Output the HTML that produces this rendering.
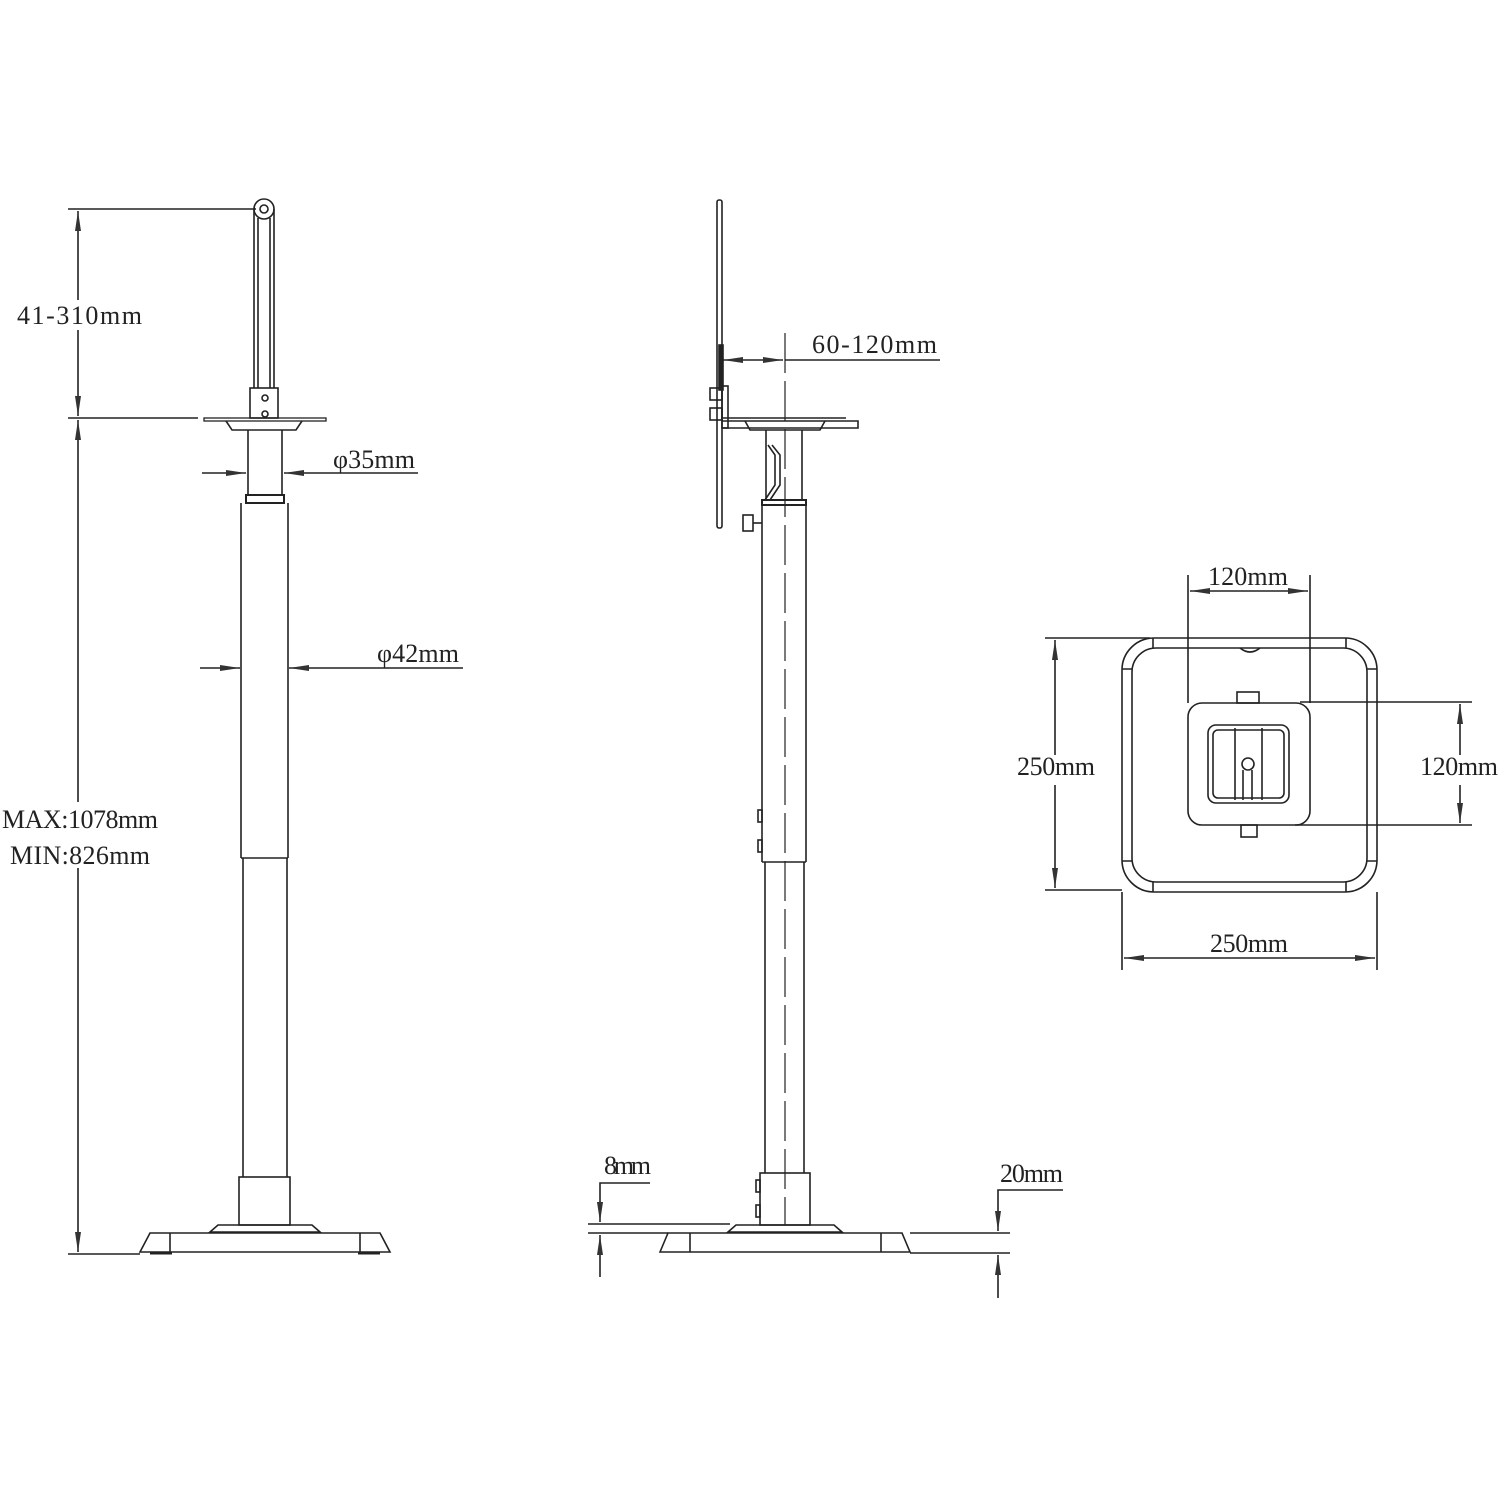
<!DOCTYPE html>
<html><head><style>
html,body{margin:0;padding:0;background:#fff;}
svg{display:block}
text{font-family:"Liberation Serif",serif;font-size:26px;fill:#222;}
</style></head><body>
<svg width="1500" height="1500" viewBox="0 0 1500 1500" xmlns="http://www.w3.org/2000/svg">
<defs>
<marker id="a" viewBox="0 0 20 8" refX="20" refY="4" markerWidth="20" markerHeight="8" markerUnits="userSpaceOnUse" orient="auto-start-reverse"><path d="M0,1 L20,4 L0,7 Z" fill="#333"/></marker>
</defs>
<g stroke="#222" stroke-width="1.6" fill="none">
<!-- LEFT STAND -->
<circle cx="264" cy="209" r="10"/><circle cx="264" cy="209" r="4"/>
<path d="M254,209 V388 M274,209 V388 M258,218 V388 M270,218 V388"/>
<rect x="250" y="388" width="28" height="30"/>
<circle cx="265" cy="398" r="3"/><circle cx="265" cy="414" r="3"/>
<rect x="204" y="418" width="122" height="3" stroke-width="1.3"/>
<path d="M226,421 L232,430 H296 L302,421"/>
<path d="M248,430 V495 M282,430 V495"/>
<rect x="246" y="495" width="38" height="8" stroke-width="2"/>
<path d="M241,503 V858 M288,503 V858 M241,858 H288"/>
<path d="M243,858 V1177 M287,858 V1177"/>
<rect x="239" y="1177" width="51" height="48"/>
<path d="M210,1232 L218,1225 H312 L320,1232 Z"/>
<path d="M140,1252 L150,1233 H380 L390,1252 Z"/>
<path d="M170,1233 V1252 M360,1233 V1252"/>
<path d="M150,1253 H172 M358,1253 H380" stroke-width="3"/>
<!-- left dims -->
<path d="M68,209 H256 M68,418 H198 M68,1254 H140"/>
<path d="M78,211 V416" marker-start="url(#a)" marker-end="url(#a)"/>
<path d="M78,420 V1252" marker-start="url(#a)" marker-end="url(#a)"/>
<path d="M202,473 H246" marker-end="url(#a)"/>
<path d="M418,473 H284" marker-end="url(#a)"/>
<path d="M200,668 H240" marker-end="url(#a)"/>
<path d="M463,668 H289" marker-end="url(#a)"/>
<!-- MIDDLE STAND -->
<rect x="717" y="200" width="5" height="328" rx="2"/>
<rect x="719" y="345" width="4" height="45" fill="#222"/>
<rect x="710" y="388" width="12" height="12"/><rect x="710" y="408" width="12" height="12"/>
<rect x="722" y="386" width="6" height="42"/>
<path d="M722,418 H846 M722,428 H858 V421 H722"/>
<path d="M745,421 L750,430 H820 L825,421"/>
<path d="M766,430 V500 M802,430 V500"/>
<path d="M768,445 L775,455 V485 L765,500 M772,445 L780,455 V485 L770,500"/>
<rect x="762" y="500" width="44" height="5" stroke-width="2"/>
<path d="M762,505 V862 M806,505 V862 M762,862 H806"/>
<rect x="743" y="515" width="10" height="16"/><path d="M753,523 H762"/>
<path d="M765,862 V1173 M804,862 V1173"/>
<rect x="758" y="810" width="4" height="12"/><rect x="758" y="840" width="4" height="12"/>
<rect x="760" y="1173" width="50" height="52"/>
<rect x="756" y="1180" width="4" height="12"/><rect x="756" y="1205" width="4" height="12"/>
<path d="M728,1232 L736,1225 H834 L842,1232 Z"/>
<path d="M660,1252 L668,1233 H902 L910,1252 Z"/>
<path d="M690,1233 V1252 M881,1233 V1252"/>
<path d="M785,333 V1225" stroke-dasharray="40,8" stroke-width="1.2"/>
<!-- middle dims -->
<path d="M723,360 H783" marker-start="url(#a)" marker-end="url(#a)"/>
<path d="M785,360 H940"/>
<path d="M588,1224 H730 M588,1233 H668 M910,1233 H1010 M910,1253 H1010"/>
<path d="M650,1183 H600 V1222" marker-end="url(#a)"/>
<path d="M600,1277 V1235" marker-end="url(#a)"/>
<path d="M1063,1190 H998 V1231" marker-end="url(#a)"/>
<path d="M998,1298 V1255" marker-end="url(#a)"/>
<!-- RIGHT SQUARE -->
<rect x="1122" y="638" width="255" height="254" rx="32"/>
<rect x="1132" y="648" width="235" height="234" rx="24"/>
<path d="M1153,638 V648 M1346,638 V648 M1153,882 V892 M1346,882 V892 M1122,669 H1132 M1367,669 H1377 M1122,861 H1132 M1367,861 H1377"/>
<path d="M1240,648 Q1250,656 1260,648"/>
<rect x="1188" y="703" width="122" height="122" rx="14"/>
<rect x="1208" y="725" width="81" height="78" rx="8"/>
<rect x="1213" y="730" width="71" height="68" rx="5"/>
<path d="M1235,728 V800 M1262,728 V800 M1243,770 V800 M1252,770 V800"/>
<circle cx="1248" cy="764" r="6"/>
<rect x="1237" y="692" width="22" height="11"/>
<rect x="1241" y="825" width="16" height="12"/>
<!-- right dims -->
<path d="M1188,575 V703 M1310,575 V703"/>
<path d="M1190,591 H1308" marker-start="url(#a)" marker-end="url(#a)"/>
<path d="M1045,638 H1150 M1045,890 H1122"/>
<path d="M1055,640 V888" marker-start="url(#a)" marker-end="url(#a)"/>
<path d="M1300,702 H1472 M1295,825 H1472"/>
<path d="M1460,704 V823" marker-start="url(#a)" marker-end="url(#a)"/>
<path d="M1122,892 V970 M1377,892 V970"/>
<path d="M1124,958 H1375" marker-start="url(#a)" marker-end="url(#a)"/>
</g>
<g>
<rect x="15" y="300" width="130" height="30" fill="#fff"/>
<text x="17" y="324" textLength="125">41-310mm</text>
<rect x="0" y="802" width="160" height="66" fill="#fff"/>
<text x="2" y="828" textLength="156">MAX:1078mm</text>
<text x="10" y="864" textLength="140">MIN:826mm</text>
<text x="333" y="468" textLength="82">φ35mm</text>
<text x="377" y="662" textLength="82">φ42mm</text>
<text x="812" y="353" textLength="125">60-120mm</text>
<text x="604" y="1174" textLength="47">8mm</text>
<text x="1000" y="1182" textLength="63">20mm</text>
<text x="1208" y="585" textLength="80">120mm</text>
<rect x="1015" y="755" width="80" height="30" fill="#fff"/>
<text x="1017" y="775" textLength="78">250mm</text>
<rect x="1418" y="755" width="80" height="30" fill="#fff"/>
<text x="1420" y="775" textLength="78">120mm</text>
<text x="1210" y="952" textLength="78">250mm</text>
</g>
</svg>
</body></html>
